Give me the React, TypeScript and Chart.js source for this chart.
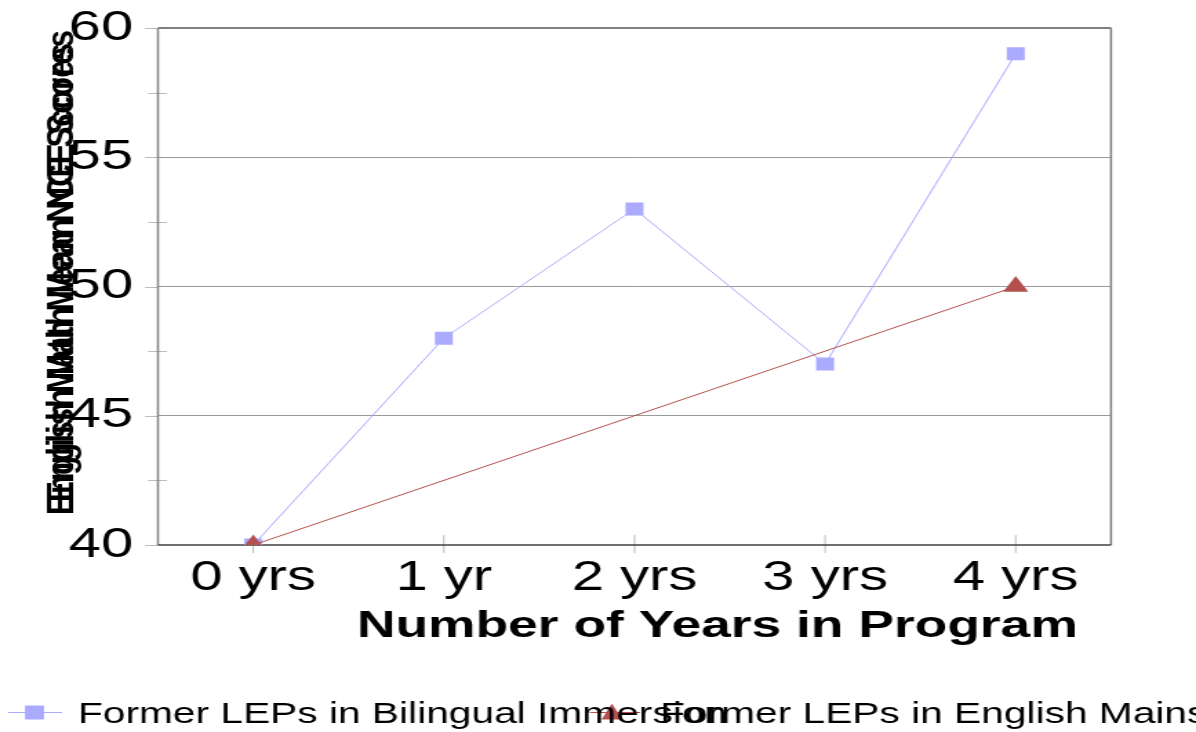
import React, { useEffect, useRef } from "react";
import { Chart, registerables } from "chart.js";

Chart.register(...registerables);

const categories = ["0 yrs", "1 yr", "2 yrs", "3 yrs", "4 yrs"];
const bilingualScores = [40, 48, 53, 47, 59];
const mainstreamScores = [40, null, null, null, 50];
const seriesLabels = [
  "Former LEPs in Bilingual Immersion",
  "Former LEPs in English Mainstream",
];
const seriesColors = ["#aaaaff", "#b4504e"];
const majorTicks = [40, 45, 50, 55, 60];
const minorTicks = [42.5, 47.5, 52.5, 57.5];
const xTitle = "Number of Years in Program";
const yTitle = "English Math Mean NCE Scores";

const CANVAS_W = 867;
const CANVAS_H = 732;
const FONT = '"Liberation Sans", Arial, sans-serif';

const decorPlugin = {
  id: "decor",
  beforeDatasetsDraw(chart: any) {
    const { ctx, chartArea: a, scales } = chart;
    const x = scales.x;
    const y = scales.y;
    ctx.save();
    ctx.strokeStyle = "#bbbbbb";
    ctx.lineWidth = 1;
    for (const v of minorTicks) {
      const py = Math.round(y.getPixelForValue(v)) + 0.5;
      ctx.beginPath();
      ctx.moveTo(a.left - 7.2, py);
      ctx.lineTo(a.left + 6.5, py);
      ctx.stroke();
    }
    for (const v of majorTicks) {
      const py = Math.round(y.getPixelForValue(v)) + 0.5;
      ctx.beginPath();
      ctx.moveTo(a.left - 9.4, py);
      ctx.lineTo(a.left, py);
      ctx.stroke();
    }
    categories.forEach((_, i) => {
      const px = x.getPixelForValue(i);
      ctx.beginPath();
      ctx.moveTo(px, a.bottom - 10);
      ctx.lineTo(px, a.bottom + 8);
      ctx.stroke();
    });
    // frame
    ctx.strokeStyle = "#808080";
    ctx.lineWidth = 2;
    ctx.beginPath();
    ctx.moveTo(a.left, a.top);
    ctx.lineTo(a.right, a.top);
    ctx.stroke();
    ctx.lineWidth = 1.5;
    ctx.beginPath();
    ctx.moveTo(a.left, a.top);
    ctx.lineTo(a.left, a.bottom);
    ctx.moveTo(a.right, a.top);
    ctx.lineTo(a.right, a.bottom);
    ctx.stroke();
    ctx.strokeStyle = "#404040";
    ctx.lineWidth = 1.5;
    ctx.beginPath();
    ctx.moveTo(a.left, a.bottom);
    ctx.lineTo(a.right, a.bottom);
    ctx.stroke();
    ctx.restore();
  },
  afterDraw(chart: any) {
    const { ctx } = chart;
    ctx.save();
    ctx.fillStyle = "#000";
    // x axis title
    ctx.font = `bold 36px ${FONT}`;
    ctx.textAlign = "center";
    ctx.textBaseline = "alphabetic";
    const xw = ctx.measureText(xTitle).width;
    ctx.save();
    ctx.translate(520, 637);
    ctx.scale(522.6 / xw, 1);
    ctx.fillText(xTitle, 0, 0);
    ctx.restore();

    // y axis title (two overlapping copies)
    ctx.font = `bold 27px ${FONT}`;
    const yw = ctx.measureText(yTitle).width;
    const copies = [279, 266];
    for (const cy of copies) {
      ctx.save();
      ctx.translate(52.5, cy);
      ctx.rotate(-Math.PI / 2);
      ctx.scale(472 / yw, 1);
      ctx.fillText(yTitle, 0, 0);
      ctx.restore();
    }

    // legend
    const items = [
      { lineStart: 5.8, lineEnd: 45, marker: 25, text: 56.5 },
      { lineStart: 427.7, lineEnd: 464, marker: 443.6, text: 478.5 },
    ];
    const ly = 712.5;
    items.forEach((it, i) => {
      const color = seriesColors[i];
      ctx.strokeStyle = color;
      ctx.lineWidth = 1;
      ctx.beginPath();
      ctx.moveTo(it.lineStart, ly);
      ctx.lineTo(it.lineEnd, ly);
      ctx.stroke();
      ctx.fillStyle = color;
      if (i === 0) {
        ctx.fillRect(it.marker - 6.9, ly - 7, 13.8, 14);
      } else {
        ctx.beginPath();
        ctx.moveTo(it.marker, ly - 9);
        ctx.lineTo(it.marker + 7.5, ly + 7);
        ctx.lineTo(it.marker - 7.5, ly + 7);
        ctx.closePath();
        ctx.fill();
      }
    });
    ctx.fillStyle = "#000";
    ctx.font = `29.5px ${FONT}`;
    ctx.textAlign = "left";
    ctx.textBaseline = "alphabetic";
    items.forEach((it, i) => {
      ctx.fillText(seriesLabels[i], it.text, 723);
    });
    ctx.restore();
  },
};

export default function App() {
  const canvasRef = useRef<HTMLCanvasElement | null>(null);

  useEffect(() => {
    document.body.style.margin = "0";
    const canvas = canvasRef.current;
    if (!canvas) return;
    const chart = new Chart(canvas, {
      type: "line",
      data: {
        labels: categories,
        datasets: [
          {
            label: seriesLabels[0],
            data: bilingualScores,
            borderColor: seriesColors[0],
            backgroundColor: seriesColors[0],
            borderWidth: 1,
            pointStyle: "rect",
            pointRadius: 9.2,
            pointBorderWidth: 0,
            order: 1,
          },
          {
            label: seriesLabels[1],
            data: mainstreamScores,
            borderColor: seriesColors[1],
            backgroundColor: seriesColors[1],
            borderWidth: 1,
            pointStyle: "triangle",
            pointRadius: 10.5,
            pointBorderWidth: 0,
            spanGaps: true,
            order: 0,
          },
        ],
      },
      options: {
        responsive: false,
        devicePixelRatio: 1,
        animation: false,
        layout: { padding: { left: 0, right: 61.6, top: 28, bottom: 0 } },
        plugins: {
          legend: { display: false },
          tooltip: { enabled: false },
        },
        scales: {
          x: {
            type: "category",
            offset: true,
            grid: { display: false, drawTicks: false },
            border: { display: false },
            ticks: {
              color: "#000",
              padding: 8,
              font: { family: FONT, size: 42 },
              maxRotation: 0,
              autoSkip: false,
            },
            afterFit(scale: any) {
              scale.height = CANVAS_H - 545;
            },
          },
          y: {
            min: 40,
            max: 60,
            grid: {
              drawTicks: false,
              lineWidth: 1,
              color: (c: any) =>
                c.tick && c.tick.value > 40 && c.tick.value < 60
                  ? "#9a9a9a"
                  : "rgba(0,0,0,0)",
            },
            border: { display: false },
            ticks: {
              stepSize: 5,
              color: "#000",
              padding: 18,
              font: { family: FONT, size: 42, lineHeight: 0.45 },
            },
            afterFit(scale: any) {
              scale.width = 114.5;
            },
          },
        },
      },
      plugins: [decorPlugin],
    });
    return () => chart.destroy();
  }, []);

  return (
    <canvas
      ref={canvasRef}
      width={CANVAS_W}
      height={CANVAS_H}
      style={{ width: "1196px", height: "732px", display: "block" }}
    />
  );
}
